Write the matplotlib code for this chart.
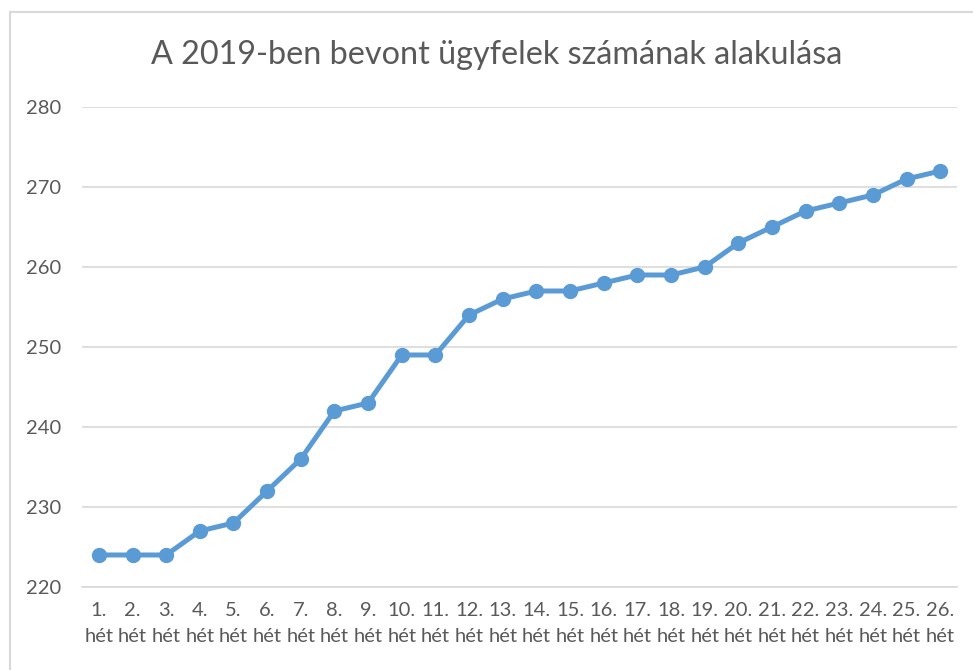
import matplotlib.pyplot as plt
from matplotlib.patches import Rectangle

# weekly client counts, 2019
weeks = [f"{i}.\nhét" for i in range(1, 27)]
clients = [224, 224, 224, 227, 228, 232, 236, 242, 243, 249, 249, 254, 256,
           257, 257, 258, 259, 259, 260, 263, 265, 267, 268, 269, 271, 272]
y_ticks = [220, 230, 240, 250, 260, 270, 280]

plt.rcParams['font.family'] = ['Lato', 'DejaVu Sans']

fig = plt.figure(figsize=(9.73, 6.7), dpi=100)
ax = fig.add_axes([0.0843, 0.1239, 0.8993, 0.7164])

# chart outer border (Excel style), clipped at right/bottom of image
fig.patches.append(Rectangle((10 / 973, -0.1), 1.2, 1 - 12 / 670 + 0.1,
                             transform=fig.transFigure, fill=False,
                             edgecolor='#d9d9d9', linewidth=1.5))

x = list(range(len(weeks)))
ax.plot(x, clients, color='#5b9bd5', linewidth=3.6, marker='o',
        markersize=10, zorder=3)

ax.set_xlim(-0.5, len(weeks) - 0.5)
ax.set_ylim(220, 280)
ax.set_yticks(y_ticks)
ax.set_xticks(x)
ax.set_xticklabels(weeks, linespacing=1.6)

ax.grid(axis='y', color='#d9d9d9', linewidth=1.2)
ax.set_axisbelow(True)
for s in ['top', 'right', 'left']:
    ax.spines[s].set_visible(False)
ax.spines['bottom'].set_color('#d9d9d9')
ax.spines['bottom'].set_linewidth(1.2)
ax.tick_params(axis='both', length=0, labelsize=14.5, colors='#595959')
ax.tick_params(axis='y', pad=15)
ax.tick_params(axis='x', pad=11)

fig.text(0.51, 0.918, "A 2019-ben bevont ügyfelek számának alakulása",
         ha='center', va='center', fontsize=23.3, color='#595959')

fig.savefig('out.png', dpi=100, facecolor='white')
